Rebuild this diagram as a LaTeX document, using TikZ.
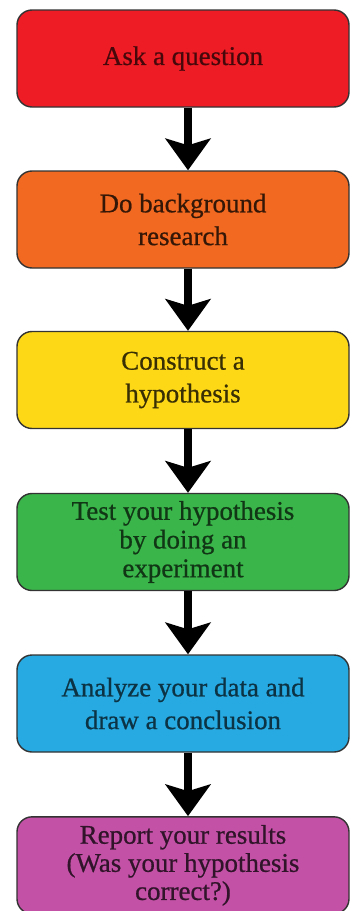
\documentclass[tikz,border=0pt]{standalone}
\usepackage{fontspec}
\setmainfont{Liberation Serif}
\usetikzlibrary{arrows.meta, positioning}

\definecolor{askred}{HTML}{EE1C25}
\definecolor{bgorange}{HTML}{F26A21}
\definecolor{hypyellow}{HTML}{FDD817}
\definecolor{testgreen}{HTML}{3AB54A}
\definecolor{datablue}{HTML}{27A9E1}
\definecolor{reppurple}{HTML}{C352A6}

\begin{document}
\begin{tikzpicture}[>={Stealth[width=1.35cm, length=0.95cm, inset=0.2cm]},
	box/.style={draw=black!80, line width=1.2pt, rounded corners=0.45cm,
		minimum width=9.96cm, minimum height=2.91cm, align=center,
		font=\fontsize{23}{28}\selectfont\addfontfeature{FakeBold=0.7}},
	flow/.style={->, line width=0.22cm}]
	\useasboundingbox (0,0) rectangle (10.53,-27.33);
	\clip (0,0) rectangle (10.53,-27.33);

	% the six steps
	\node[box, fill=askred, text=askred!30!black] (ask) at (5.49,-1.755) {Ask a question};
	\node[box, fill=bgorange, text=bgorange!22!black] (bg) at (5.49,-6.585) {Do background\\research};
	\node[box, fill=hypyellow, text=hypyellow!22!black] (hyp) at (5.49,-11.4) {Construct a\\hypothesis};
	\node[box, fill=testgreen, text=testgreen!30!black, font=\fontsize{23}{24.5}\selectfont\addfontfeature{FakeBold=0.7}] (test) at (5.49,-16.26) {Test your hypothesis\\by doing an\\experiment};
	\node[box, fill=datablue, text=datablue!30!black] (data) at (5.49,-21.105) {Analyze your data and\\draw a conclusion};
	\node[box, fill=reppurple, text=reppurple!25!black, font=\fontsize{23}{24}\selectfont\addfontfeature{FakeBold=0.7}] (rep) at (5.49,-25.96) {Report your results\\(Was your hypothesis\\correct?)};

	% arrows between them
	\draw [flow]([xshift=1.5mm]ask.south)--([xshift=1.5mm]bg.north);
	\draw [flow]([xshift=1.5mm]bg.south)--([xshift=1.5mm]hyp.north);
	\draw [flow]([xshift=1.5mm]hyp.south)--([xshift=1.5mm]test.north);
	\draw [flow]([xshift=1.5mm]test.south)--([xshift=1.5mm]data.north);
	\draw [flow]([xshift=1.5mm]data.south)--([xshift=1.5mm]rep.north);
\end{tikzpicture}
\end{document}
